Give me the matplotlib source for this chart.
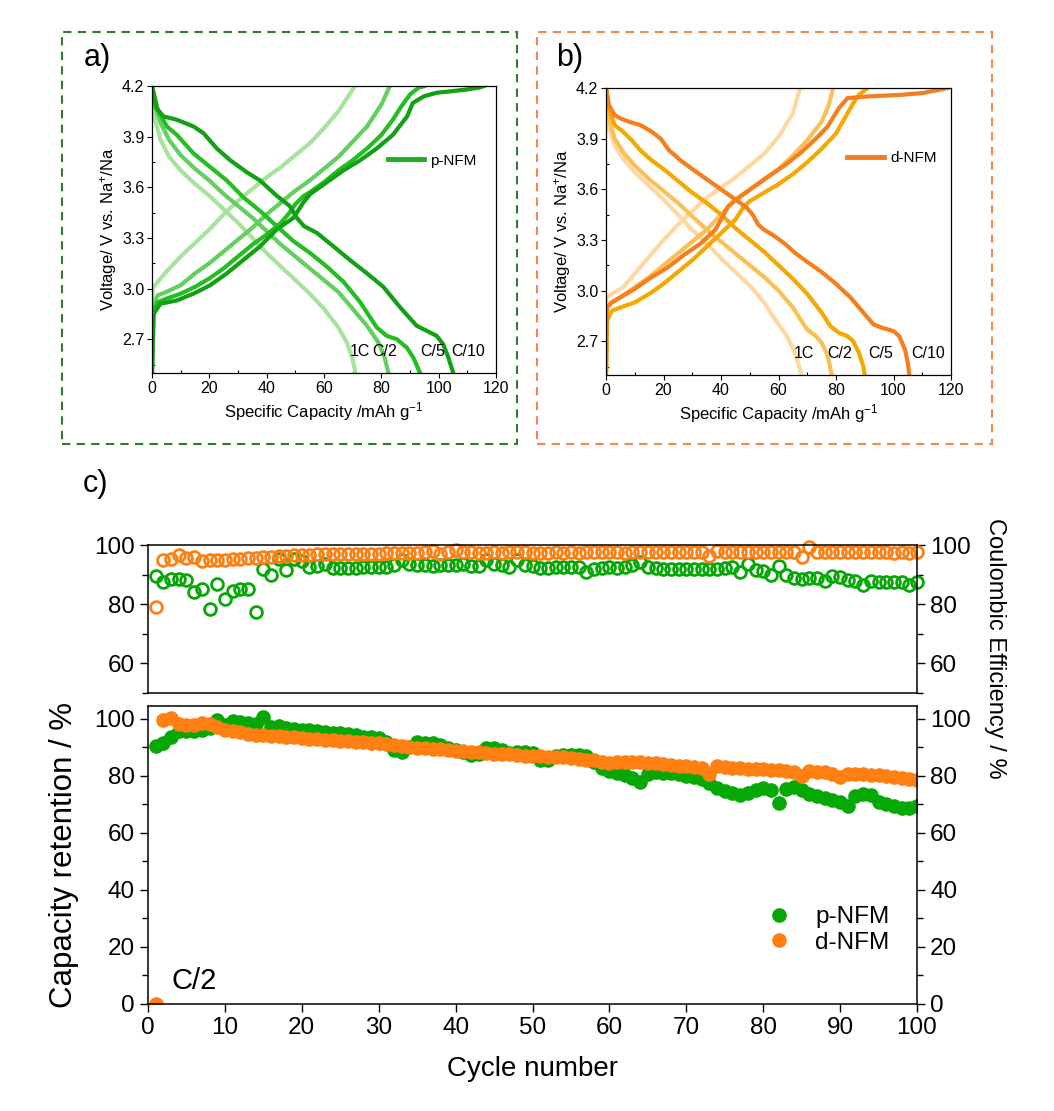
import matplotlib
matplotlib.use('Agg')
import matplotlib.pyplot as plt
from matplotlib.patches import Rectangle
from matplotlib.ticker import MultipleLocator
from matplotlib.lines import Line2D

plt.rcParams['font.family'] = ['Liberation Sans', 'DejaVu Sans']
plt.rcParams['mathtext.default'] = 'regular'

# ---------------- data: panel a (p-NFM) ----------------
rate_labels = ['1C', 'C/2', 'C/5', 'C/10']

a_dis_1C_x = [0, 1, 3, 6, 10, 15, 20, 25, 30, 35, 40, 45, 50, 55, 60, 65, 68, 70, 71]
a_dis_1C_y = [4.2, 4.0, 3.88, 3.78, 3.70, 3.62, 3.55, 3.47, 3.39, 3.30, 3.21, 3.13, 3.05, 2.97, 2.88, 2.77, 2.68, 2.58, 2.5]
a_dis_C2_x = [0, 1, 3, 6, 10, 15, 20, 25, 30, 35, 40, 45, 50, 55, 60, 65, 70, 75, 79, 81, 82.5]
a_dis_C2_y = [4.2, 4.08, 3.98, 3.88, 3.79, 3.71, 3.64, 3.56, 3.49, 3.42, 3.34, 3.26, 3.19, 3.12, 3.05, 2.98, 2.88, 2.78, 2.68, 2.6, 2.5]
a_dis_C5_x = [0, 2, 5.2, 8.7, 14.5, 20.3, 26.1, 31.9, 37.7, 43.5, 49.4, 55.2, 61, 66.8, 72.6, 78.4, 81.9, 85.4, 88.9, 91.2, 93.5]
a_dis_C5_y = [4.2, 4.06, 3.96, 3.91, 3.80, 3.72, 3.64, 3.54, 3.46, 3.37, 3.28, 3.21, 3.13, 3.04, 2.92, 2.77, 2.72, 2.70, 2.65, 2.59, 2.5]
a_dis_C10_x = [0, 1.5, 4, 8.7, 14.5, 18, 22.6, 27.3, 33, 37.7, 43.5, 48, 50.5, 53, 57.5, 63.3, 69, 75, 80.7, 86.5, 92.3, 95.8, 99.3, 101.6, 103.4, 105.1]
a_dis_C10_y = [4.2, 4.07, 4.02, 4.0, 3.96, 3.92, 3.83, 3.76, 3.69, 3.64, 3.55, 3.49, 3.42, 3.37, 3.33, 3.25, 3.17, 3.09, 3.01, 2.89, 2.78, 2.75, 2.72, 2.67, 2.59, 2.5]

a_chg_1C_x = [0, 0.2, 2, 5, 10, 15, 20, 25, 30, 35, 40, 45, 50, 55, 60, 65, 70.8]
a_chg_1C_y = [2.5, 3.0, 3.04, 3.1, 3.19, 3.27, 3.35, 3.44, 3.52, 3.59, 3.66, 3.72, 3.79, 3.86, 3.95, 4.05, 4.2]
a_chg_C2_x = [0, 0.3, 2, 5, 10, 15, 20, 25, 30, 35, 40, 45, 50, 55, 60, 65, 70, 75, 80, 83]
a_chg_C2_y = [2.5, 2.9, 2.96, 2.98, 3.02, 3.09, 3.15, 3.22, 3.29, 3.36, 3.44, 3.51, 3.58, 3.64, 3.71, 3.78, 3.87, 3.96, 4.09, 4.2]
a_chg_C5_x = [0, 0.5, 2, 5, 10, 15, 20, 25, 30, 35, 40, 45, 48, 50, 53, 55, 60, 65, 70, 75, 80, 84, 87, 90, 93, 95.2]
a_chg_C5_y = [2.5, 2.87, 2.92, 2.94, 2.97, 3.01, 3.06, 3.12, 3.19, 3.26, 3.32, 3.39, 3.45, 3.5, 3.55, 3.57, 3.63, 3.7, 3.76, 3.83, 3.91, 4.0, 4.08, 4.15, 4.19, 4.2]
a_chg_C10_x = [0, 0.6, 2.9, 8.7, 14.5, 20.3, 26.1, 31.9, 37.7, 43.5, 49.4, 52.8, 55.2, 61, 66.8, 72.6, 78.4, 84, 89, 91, 95, 99.3, 105, 110, 114, 116]
a_chg_C10_y = [2.5, 2.85, 2.91, 2.93, 2.97, 3.02, 3.09, 3.17, 3.25, 3.35, 3.42, 3.51, 3.56, 3.63, 3.70, 3.76, 3.83, 3.91, 4.02, 4.10, 4.14, 4.16, 4.17, 4.18, 4.19, 4.2]

# ---------------- data: panel b (d-NFM) ----------------
b_dis_1C_x = [0, 1, 3, 6, 10, 15, 20, 25, 30, 35, 40, 45, 50, 55, 58, 60, 63, 66, 68]
b_dis_1C_y = [4.2, 3.96, 3.86, 3.78, 3.70, 3.62, 3.54, 3.45, 3.36, 3.28, 3.19, 3.11, 3.03, 2.93, 2.85, 2.8, 2.73, 2.62, 2.5]
b_dis_C2_x = [0, 1, 3, 6, 10, 15, 20, 25, 30, 35, 40, 45, 50, 55, 60, 65, 68, 70, 73, 75, 77, 78.5]
b_dis_C2_y = [4.2, 4.02, 3.9, 3.82, 3.74, 3.66, 3.59, 3.52, 3.44, 3.36, 3.29, 3.22, 3.15, 3.08, 3.0, 2.9, 2.82, 2.77, 2.73, 2.69, 2.62, 2.5]
b_dis_C5_x = [0, 1, 3, 6, 9, 12, 16, 20, 25, 30, 35, 40, 45, 50, 55, 60, 65, 70, 75, 78, 81, 84, 86, 88, 89.5, 90]
b_dis_C5_y = [4.2, 4.08, 3.98, 3.94, 3.89, 3.83, 3.77, 3.72, 3.65, 3.58, 3.52, 3.45, 3.37, 3.30, 3.23, 3.15, 3.07, 2.98, 2.87, 2.79, 2.75, 2.73, 2.7, 2.63, 2.55, 2.5]
b_dis_C10_x = [0, 1, 3, 5, 8, 12, 16, 19, 22, 26, 30, 35, 40, 45, 49, 51, 53, 55, 58, 62, 66, 70, 75, 80, 85, 90, 93, 96, 100, 102, 104, 105, 105.5]
b_dis_C10_y = [4.2, 4.1, 4.04, 4.02, 4.0, 3.98, 3.94, 3.9, 3.83, 3.77, 3.72, 3.66, 3.6, 3.54, 3.49, 3.45, 3.39, 3.36, 3.33, 3.28, 3.22, 3.17, 3.11, 3.04, 2.96, 2.86, 2.8, 2.78, 2.76, 2.73, 2.65, 2.57, 2.5]

b_chg_1C_x = [0, 0.2, 3, 6, 10, 15, 20, 25, 30, 35, 40, 45, 50, 55, 60, 65, 67.5]
b_chg_1C_y = [2.5, 2.96, 2.99, 3.02, 3.1, 3.2, 3.3, 3.39, 3.47, 3.55, 3.61, 3.67, 3.74, 3.81, 3.91, 4.05, 4.2]
b_chg_C2_x = [0, 0.3, 2, 5, 10, 15, 20, 25, 30, 35, 40, 45, 50, 55, 60, 65, 70, 75, 77.5, 79]
b_chg_C2_y = [2.5, 2.9, 2.93, 2.96, 3.02, 3.08, 3.15, 3.22, 3.29, 3.36, 3.45, 3.54, 3.6, 3.66, 3.72, 3.8, 3.89, 4.0, 4.1, 4.2]
b_chg_C5_x = [0, 0.3, 2, 5, 10, 15, 20, 25, 30, 35, 40, 45, 48, 50, 55, 60, 65, 70, 75, 80, 83, 86, 88, 91]
b_chg_C5_y = [2.5, 2.82, 2.88, 2.9, 2.93, 2.98, 3.04, 3.11, 3.18, 3.26, 3.34, 3.42, 3.5, 3.53, 3.58, 3.63, 3.69, 3.76, 3.84, 3.93, 4.02, 4.11, 4.16, 4.2]
b_chg_C10_x = [0, 0.3, 2, 5, 10, 15, 21.7, 27, 33, 38, 40, 42.5, 47, 56, 62, 68, 73, 77, 81, 84, 91, 103, 110, 116, 119]
b_chg_C10_y = [2.5, 2.9, 2.93, 2.96, 3.01, 3.07, 3.14, 3.21, 3.28, 3.36, 3.42, 3.5, 3.56, 3.67, 3.74, 3.82, 3.9, 3.97, 4.08, 4.14, 4.15, 4.16, 4.17, 4.19, 4.2]

# ---------------- data: panel c ----------------
cycles = list(range(1, 101))

ce_p = [89.6, 87.5, 88.5, 88.6, 88.3, 84.0, 85.1, 78.3, 86.9, 81.7,
        84.3, 85.1, 85.2, 77.4, 92.0, 89.7, 95.2, 91.4, 95.2, 94.5,
        92.6, 93.0, 93.7, 92.3, 92.3, 92.2, 92.3, 92.4, 92.5, 92.5,
        92.6, 93.2, 94.9, 93.6, 93.2, 93.1, 93.0, 93.1, 93.4, 93.3,
        93.5, 93.0, 92.8, 95.1, 93.6, 93.2, 92.6, 94.9, 93.3, 92.8,
        92.1, 92.2, 92.5, 92.4, 92.6, 92.4, 91.0, 92.0, 92.3, 92.4,
        92.3, 92.4, 93.2, 94.1, 92.6, 92.3, 92.0, 91.9, 91.8, 91.9,
        92.0, 91.9, 91.9, 92.0, 92.1, 92.5, 91.0, 93.6, 91.6, 91.2,
        90.0, 92.8, 90.0, 88.8, 88.6, 88.7, 88.9, 87.8, 89.6, 89.2,
        88.3, 87.9, 86.4, 87.9, 87.5, 87.4, 87.4, 87.4, 86.6, 87.6]

ce_d = [79.0, 94.9, 95.2, 96.6, 95.7, 95.8, 94.6, 94.9, 95.0, 95.1,
        95.3, 95.4, 95.6, 95.6, 95.8, 96.0, 96.3, 96.4, 96.5, 96.6,
        96.7, 96.8, 96.8, 96.9, 97.0, 97.0, 97.0, 97.1, 97.1, 97.1,
        97.2, 97.2, 97.2, 97.3, 97.3, 97.5, 97.9, 96.8, 97.6, 98.3,
        97.6, 97.5, 97.4, 97.4, 97.5, 97.4, 97.5, 97.8, 97.5, 97.4,
        97.4, 97.4, 97.5, 97.4, 97.5, 97.4, 97.5, 97.5, 97.6, 97.8,
        97.5, 97.3, 97.6, 97.8, 97.5, 97.5, 97.6, 97.5, 97.6, 97.6,
        97.5, 97.5, 96.2, 98.0, 97.6, 97.5, 97.6, 97.5, 97.6, 97.5,
        97.5, 97.6, 97.5, 97.5, 96.0, 99.3, 97.8, 97.6, 97.7, 97.5,
        97.6, 97.5, 97.5, 97.6, 97.5, 97.5, 97.4, 97.5, 97.4, 97.7]

ret_p = [90.3, 91.5, 93.8, 95.6, 95.8, 95.9, 96.1, 96.7, 99.6, 97.9,
         99.3, 98.8, 98.5, 98.1, 100.5, 97.3, 97.5, 96.7, 96.4, 96.1,
         96.0, 95.8, 95.3, 95.0, 95.2, 94.6, 94.2, 93.8, 93.5, 93.2,
         92.0, 89.1, 88.3, 90.0, 92.0, 91.7, 91.4, 90.8, 89.7, 89.1,
         88.5, 87.4, 87.7, 89.7, 89.7, 89.1, 87.9, 88.5, 88.5, 87.9,
         85.6, 85.6, 86.8, 87.4, 87.4, 87.4, 86.8, 85.0, 82.7, 81.8,
         80.9, 80.4, 79.4, 77.7, 80.6, 81.5, 81.1, 81.1, 80.6, 80.0,
         79.6, 78.8, 77.6, 75.8, 74.8, 73.9, 73.3, 74.0, 75.2, 75.7,
         75.0, 70.5, 75.4, 76.0, 75.0, 73.8, 73.1, 72.1, 71.4, 70.9,
         69.6, 72.9, 73.5, 73.2, 71.0, 70.3, 69.3, 68.9, 68.9, 69.6]

ret_d = [0.0, 99.6, 100.2, 98.1, 97.7, 97.9, 98.5, 98.1, 97.3, 96.1,
         95.8, 95.3, 94.6, 94.4, 94.2, 93.9, 93.9, 93.5, 93.5, 93.2,
         93.0, 92.8, 92.6, 92.5, 92.3, 92.2, 92.0, 91.8, 91.7, 91.5,
         91.2, 90.9, 90.6, 90.2, 89.9, 89.7, 89.5, 89.3, 89.0, 88.8,
         88.6, 88.4, 88.2, 88.0, 87.7, 87.6, 87.5, 87.3, 87.1, 86.9,
         86.8, 86.7, 86.6, 86.5, 86.3, 86.0, 85.7, 85.4, 85.0, 84.6,
         84.7, 84.9, 85.0, 84.8, 84.6, 84.4, 84.2, 83.9, 83.6, 83.4,
         83.2, 82.9, 80.8, 83.3, 83.1, 82.9, 82.7, 82.5, 82.4, 82.3,
         82.1, 81.9, 81.6, 81.2, 80.0, 81.6, 81.5, 81.2, 80.8, 79.6,
         80.8, 80.7, 80.5, 80.3, 80.2, 79.9, 79.6, 79.3, 78.9, 78.5]

series_names = ['p-NFM', 'd-NFM']

# ---------------- styling ----------------
green_shades = ['#a6e39c', '#62cf5e', '#22be22', '#14a014']
orange_shades = ['#fed8a0', '#fbbf55', '#f5a800', '#f77e1d']
green = '#06a806'
orange = '#ff7f12'
W, H = 1054, 1111

fig = plt.figure(figsize=(W / 100, H / 100), dpi=100)


def fx(px):
    return px / W


def fy(py):
    return 1 - py / H


# dashed boxes
fig.patches.append(Rectangle((fx(62), fy(444)), fx(455), 412 / H, transform=fig.transFigure,
                             fill=False, ec='#2f7a35', lw=1.5, ls=(0, (4, 3))))
fig.patches.append(Rectangle((fx(537), fy(444)), fx(455), 412 / H, transform=fig.transFigure,
                             fill=False, ec='#f4884a', lw=1.5, ls=(0, (4, 3))))


def style_vc(ax):
    ax.set_xlim(0, 120)
    ax.set_ylim(2.5, 4.2)
    ax.xaxis.set_major_locator(MultipleLocator(20))
    ax.xaxis.set_minor_locator(MultipleLocator(10))
    ax.set_yticks([2.7, 3.0, 3.3, 3.6, 3.9, 4.2])
    ax.yaxis.set_minor_locator(MultipleLocator(0.15))
    ax.tick_params(which='major', direction='out', length=3.5, width=0.8, labelsize=11.5, pad=2)
    ax.tick_params(which='minor', direction='in', length=2.5, width=0.8)
    for s in ax.spines.values():
        s.set_linewidth(0.9)
    ax.set_xlabel('Specific Capacity /mAh g$^{-1}$', fontsize=12, labelpad=3)
    ax.set_ylabel('Voltage/ V vs. Na$^{+}$/Na', fontsize=12, labelpad=2)


# panel a
axa = fig.add_axes([fx(152), fy(373), fx(344), 287 / H])
a_dis = [(a_dis_1C_x, a_dis_1C_y), (a_dis_C2_x, a_dis_C2_y), (a_dis_C5_x, a_dis_C5_y), (a_dis_C10_x, a_dis_C10_y)]
a_chg = [(a_chg_1C_x, a_chg_1C_y), (a_chg_C2_x, a_chg_C2_y), (a_chg_C5_x, a_chg_C5_y), (a_chg_C10_x, a_chg_C10_y)]
for i in range(4):
    axa.plot(*a_dis[i], color=green_shades[i], lw=3, solid_capstyle='round', solid_joinstyle='round')
    axa.plot(*a_chg[i], color=green_shades[i], lw=3, solid_capstyle='round', solid_joinstyle='round')
style_vc(axa)
for lab, x in zip(rate_labels, [69, 77, 93.5, 104.5]):
    axa.text(x, 2.63, lab, fontsize=11.5, ha='left', va='center')
axa.legend([Line2D([], [], color='#1cb01c', lw=3.5)], [series_names[0]], loc='center left',
           bbox_to_anchor=(0.645, 0.74), frameon=False, fontsize=11, handlelength=2.4, handletextpad=0.4)
fig.text(fx(84), fy(58), 'a)', fontsize=22, ha='left', va='center')

# panel b
axb = fig.add_axes([fx(606), fy(375), fx(345), 287 / H])
b_dis = [(b_dis_1C_x, b_dis_1C_y), (b_dis_C2_x, b_dis_C2_y), (b_dis_C5_x, b_dis_C5_y), (b_dis_C10_x, b_dis_C10_y)]
b_chg = [(b_chg_1C_x, b_chg_1C_y), (b_chg_C2_x, b_chg_C2_y), (b_chg_C5_x, b_chg_C5_y), (b_chg_C10_x, b_chg_C10_y)]
for i in range(4):
    axb.plot(*b_dis[i], color=orange_shades[i], lw=3, solid_capstyle='round', solid_joinstyle='round')
    axb.plot(*b_chg[i], color=orange_shades[i], lw=3, solid_capstyle='round', solid_joinstyle='round')
style_vc(axb)
for lab, x in zip(rate_labels, [65.2, 76.8, 91.2, 106]):
    axb.text(x, 2.63, lab, fontsize=11.5, ha='left', va='center')
axb.legend([Line2D([], [], color='#f57a1a', lw=3.5)], [series_names[1]], loc='center left',
           bbox_to_anchor=(0.66, 0.755), frameon=False, fontsize=11, handlelength=2.4, handletextpad=0.4)
fig.text(fx(556), fy(58), 'b)', fontsize=22, ha='left', va='center')

# panel c
fig.text(fx(83), fy(484), 'c)', fontsize=22, ha='left', va='center')


def style_c(ax):
    for s in ax.spines.values():
        s.set_linewidth(1.1)
    ax.tick_params(which='major', direction='out', length=6, width=1.0, labelsize=17.5)
    ax.tick_params(which='minor', direction='out', length=4, width=1.0)


axt = fig.add_axes([fx(148), fy(693), fx(769), 148 / H])
axt.plot(cycles, ce_p, 'o', ms=8.5, mfc='none', mec=green, mew=2.0, clip_on=False)
axt.plot(cycles, ce_d, 'o', ms=8.5, mfc='none', mec=orange, mew=2.0, clip_on=False)
axt.set_xlim(0, 100)
axt.set_ylim(50, 100)
axt.set_yticks([60, 80, 100])
axt.yaxis.set_minor_locator(MultipleLocator(10))
axt.set_xticks([])
style_c(axt)
axt.tick_params(axis='y', which='both', left=True, right=True, labelleft=True, labelright=True)

axc = fig.add_axes([fx(148), fy(1004), fx(769), 298 / H])
axc.plot(cycles, ret_p, 'o', ms=9.5, color=green, mec=green)
axc.plot(cycles, ret_d, 'o', ms=9.5, color=orange, mec=orange)
axc.set_xlim(0, 100)
axc.set_ylim(0, 104.5)
axc.xaxis.set_major_locator(MultipleLocator(10))
axc.set_yticks([0, 20, 40, 60, 80, 100])
axc.yaxis.set_minor_locator(MultipleLocator(10))
style_c(axc)
axc.tick_params(axis='y', which='both', left=True, right=True, labelleft=True, labelright=True)
axc.set_xlabel('Cycle number', fontsize=20, labelpad=12)
axc.text(3.1, 8, 'C/2', fontsize=21, ha='left', va='center')
axc.legend(series_names, loc='center', bbox_to_anchor=(0.884, 0.248), frameon=False, fontsize=17.5,
           handlelength=1.0, handletextpad=1.0, labelspacing=0.15, markerscale=1.0)

fig.text(fx(64), fy(855), 'Capacity retention / %', fontsize=22.5, rotation=90, ha='center', va='center')
fig.text(fx(995), fy(648), 'Coulombic Efficiency / %', fontsize=17, rotation=-90, ha='center', va='center')

fig.savefig('out.png', dpi=100)
